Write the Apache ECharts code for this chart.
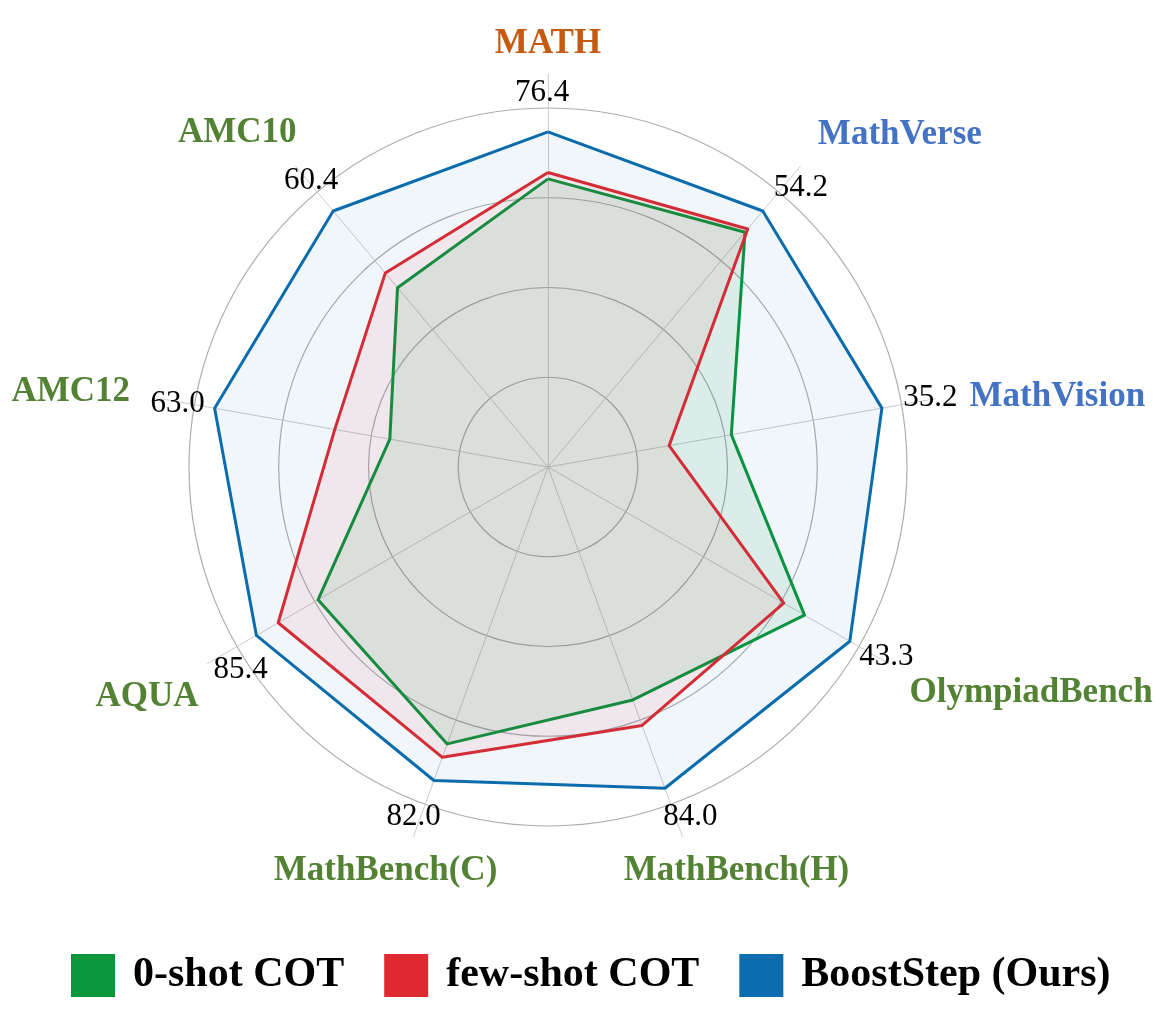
<!DOCTYPE html>
<html>
<head>
<meta charset="utf-8">
<title>BoostStep radar</title>
<script src="https://cdn.jsdelivr.net/npm/echarts@6/dist/echarts.min.js"></script>
<style>
    html, body { margin: 0; padding: 0; background: #fff; }
    #radarChart { width: 1163px; height: 1025px; }
</style>
</head>
<body>
<div id="radarChart"></div>
<script>
// benchmarks, clockwise from the top
var categories = ['MATH', 'MathVerse', 'MathVision', 'OlympiadBench', 'MathBench(H)', 'MathBench(C)', 'AQUA', 'AMC12', 'AMC10'];
// per-axis scale
var axisMin = [40, 30, 25, 20, 40, 40, 40, 20, 20];
var axisMax = [79, 56, 35.8, 44, 86.2, 85.2, 88.4, 65.6, 63.4];
// series values
var zeroShot = [71.3, 52.2, 30.6, 39.8, 71.9, 77.1, 75.8, 40.4, 48.3];
var fewShot = [72.0, 52.5, 28.7, 38.2, 75.4, 78.9, 82.0, 47.5, 50.6];
var boostStep = [76.4, 54.2, 35.2, 43.3, 84.0, 82.0, 85.4, 63.0, 60.4];
var seriesNames = ['0-shot COT', 'few-shot COT', 'BoostStep (Ours)'];

// label colours / nudges (clockwise order, same as categories)
var nameColors = ['#C55A11', '#4472C4', '#4472C4', '#548235', '#548235', '#548235', '#548235', '#548235', '#548235'];
var nameShift = [[0, 17], [69, 5], [76, 6], [102, 6], [38, -10], [-12, -10], [-20, 10], [-44, 1], [-28, 3]];
var valueShift = [[-6, 4], [10, 10], [10, -4], [11, 1], [13, -5], [-5, -5], [20, 14], [2, 2], [6, 3]];

var seriesColors = ['#0A963C', '#E02A31', '#0B6DAD'];
var fillOpacity = [0.09, 0.07, 0.06];

// echarts places radar axes counter-clockwise, so reorder
var order = [0, 8, 7, 6, 5, 4, 3, 2, 1];
function reorder(arr) {
    return order.map(function (i) { return arr[i]; });
}

function shiftPadding(s) {
    var dx = s[0], dy = s[1];
    return [Math.max(0, 2 * dy), Math.max(0, -2 * dx), Math.max(0, -2 * dy), Math.max(0, 2 * dx)];
}

var serif = 'Liberation Serif';
var valueLabels = boostStep.map(function (v) { return v.toFixed(1); });

var nameRich = {}, valueRich = {};
categories.forEach(function (c, i) {
    nameRich['n' + i] = {
        fontFamily: serif, fontWeight: 'bold', fontSize: 35,
        color: nameColors[i], padding: shiftPadding(nameShift[i])
    };
    valueRich['v' + i] = {
        fontFamily: serif, fontSize: 31,
        color: '#000', padding: shiftPadding(valueShift[i])
    };
});

var myRadarChart = function () {
    var chart = echarts.init(document.getElementById('radarChart'));

    var ringIndicator = reorder(categories.map(function (c, i) {
        return { name: c, min: axisMin[i], max: axisMax[i] };
    }));
    var spokeIndicator = reorder(valueLabels.map(function (v) {
        return { name: v, min: 0, max: 1 };
    }));

    var seriesValues = [zeroShot, fewShot, boostStep];

    var option = {
        backgroundColor: '#fff',
        animation: false,
        legend: {
            top: 949,
            left: 66,
            icon: 'rect',
            itemWidth: 44,
            itemHeight: 43,
            itemGap: 40,
            data: seriesNames,
            textStyle: {
                fontFamily: serif,
                fontWeight: 'bold',
                fontSize: 42,
                color: '#000',
                padding: [0, 0, 0, 13]
            }
        },
        radar: [
            {
                center: [548, 467],
                radius: 359,
                startAngle: 90,
                shape: 'circle',
                splitNumber: 4,
                nameGap: 81,
                indicator: ringIndicator,
                axisName: {
                    align: 'center',
                    verticalAlign: 'middle',
                    formatter: function (name) {
                        var i = categories.indexOf(name);
                        return '{n' + i + '|' + name + '}';
                    },
                    rich: nameRich
                },
                axisLine: { show: false },
                splitLine: { lineStyle: { color: '#adadad', width: 1.2 } },
                splitArea: { show: false }
            },
            {
                center: [548, 467],
                radius: 393,
                startAngle: 90,
                shape: 'circle',
                splitNumber: 1,
                nameGap: -15,
                indicator: spokeIndicator,
                axisName: {
                    align: 'center',
                    verticalAlign: 'middle',
                    formatter: function (name) {
                        var i = valueLabels.indexOf(name);
                        return '{v' + i + '|' + name + '}';
                    },
                    rich: valueRich
                },
                axisLine: { lineStyle: { color: '#cccccc', width: 1 } },
                splitLine: { show: false },
                splitArea: { show: false }
            }
        ],
        series: [{
            type: 'radar',
            radarIndex: 0,
            symbol: 'none',
            data: seriesNames.map(function (name, k) {
                return {
                    name: name,
                    value: reorder(seriesValues[k]),
                    itemStyle: { color: seriesColors[k] },
                    lineStyle: { color: seriesColors[k], width: 3 },
                    areaStyle: { color: seriesColors[k], opacity: fillOpacity[k] }
                };
            })
        }]
    };
    chart.setOption(option);
};

myRadarChart();
</script>
</body>
</html>
